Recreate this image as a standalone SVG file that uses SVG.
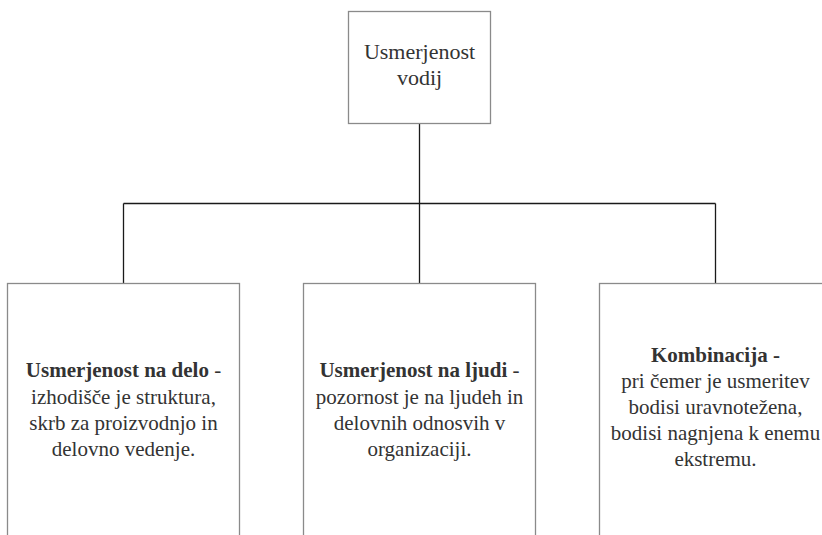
<svg xmlns="http://www.w3.org/2000/svg" width="822" height="535" viewBox="0 0 822 535">
  <style>
    .box { fill: #ffffff; stroke: #8a8a8a; stroke-width: 1.3; }
    .conn { fill: none; stroke: #1a1a1a; stroke-width: 1.3; }
    text { font-family: 'Liberation Serif', 'Times New Roman', serif; fill: #333333; text-anchor: middle; }
    .t { font-size: 22px; }
    .b { font-size: 21px; }
    .hd { font-weight: bold; }
  </style>
  <rect width="822" height="535" fill="#ffffff"/>

  <!-- connectors -->
  <g id="connectors">
    <path class="conn" d="M419.5 123.5 V203.5"/>
    <path class="conn" d="M123.5 203.5 H715.5"/>
    <path class="conn" d="M123.5 203.5 V283.5"/>
    <path class="conn" d="M419.5 203.5 V283.5"/>
    <path class="conn" d="M715.5 203.5 V283.5"/>
  </g>

  <!-- root node -->
  <g id="root">
    <rect class="box" x="348.5" y="11.5" width="142" height="112"/>
    <text class="t" x="419.5" y="59">Usmerjenost</text>
    <text class="t" x="419.5" y="85">vodij</text>
  </g>

  <!-- task orientation -->
  <g id="delo">
    <rect class="box" x="7.5" y="283.5" width="232" height="270"/>
    <text class="b" x="123.5" y="377"><tspan class="hd">Usmerjenost na delo</tspan> -</text>
    <text class="b" x="123.5" y="404">izhodišče je struktura,</text>
    <text class="b" x="123.5" y="430">skrb za proizvodnjo in</text>
    <text class="b" x="123.5" y="456">delovno vedenje.</text>
  </g>

  <!-- people orientation -->
  <g id="ljudi">
    <rect class="box" x="303.5" y="283.5" width="232" height="270"/>
    <text class="b" x="419.5" y="377"><tspan class="hd">Usmerjenost na ljudi</tspan> -</text>
    <text class="b" x="419.5" y="404">pozornost je na ljudeh in</text>
    <text class="b" x="419.5" y="430">delovnih odnosvih v</text>
    <text class="b" x="419.5" y="456">organizaciji.</text>
  </g>

  <!-- combination -->
  <g id="kombinacija">
    <rect class="box" x="599.5" y="283.5" width="232" height="270"/>
    <text class="b hd" x="715.5" y="362">Kombinacija -</text>
    <text class="b" x="715.5" y="388">pri čemer je usmeritev</text>
    <text class="b" x="715.5" y="414">bodisi uravnotežena,</text>
    <text class="b" x="715.5" y="440">bodisi nagnjena k enemu</text>
    <text class="b" x="715.5" y="466">ekstremu.</text>
  </g>
</svg>
